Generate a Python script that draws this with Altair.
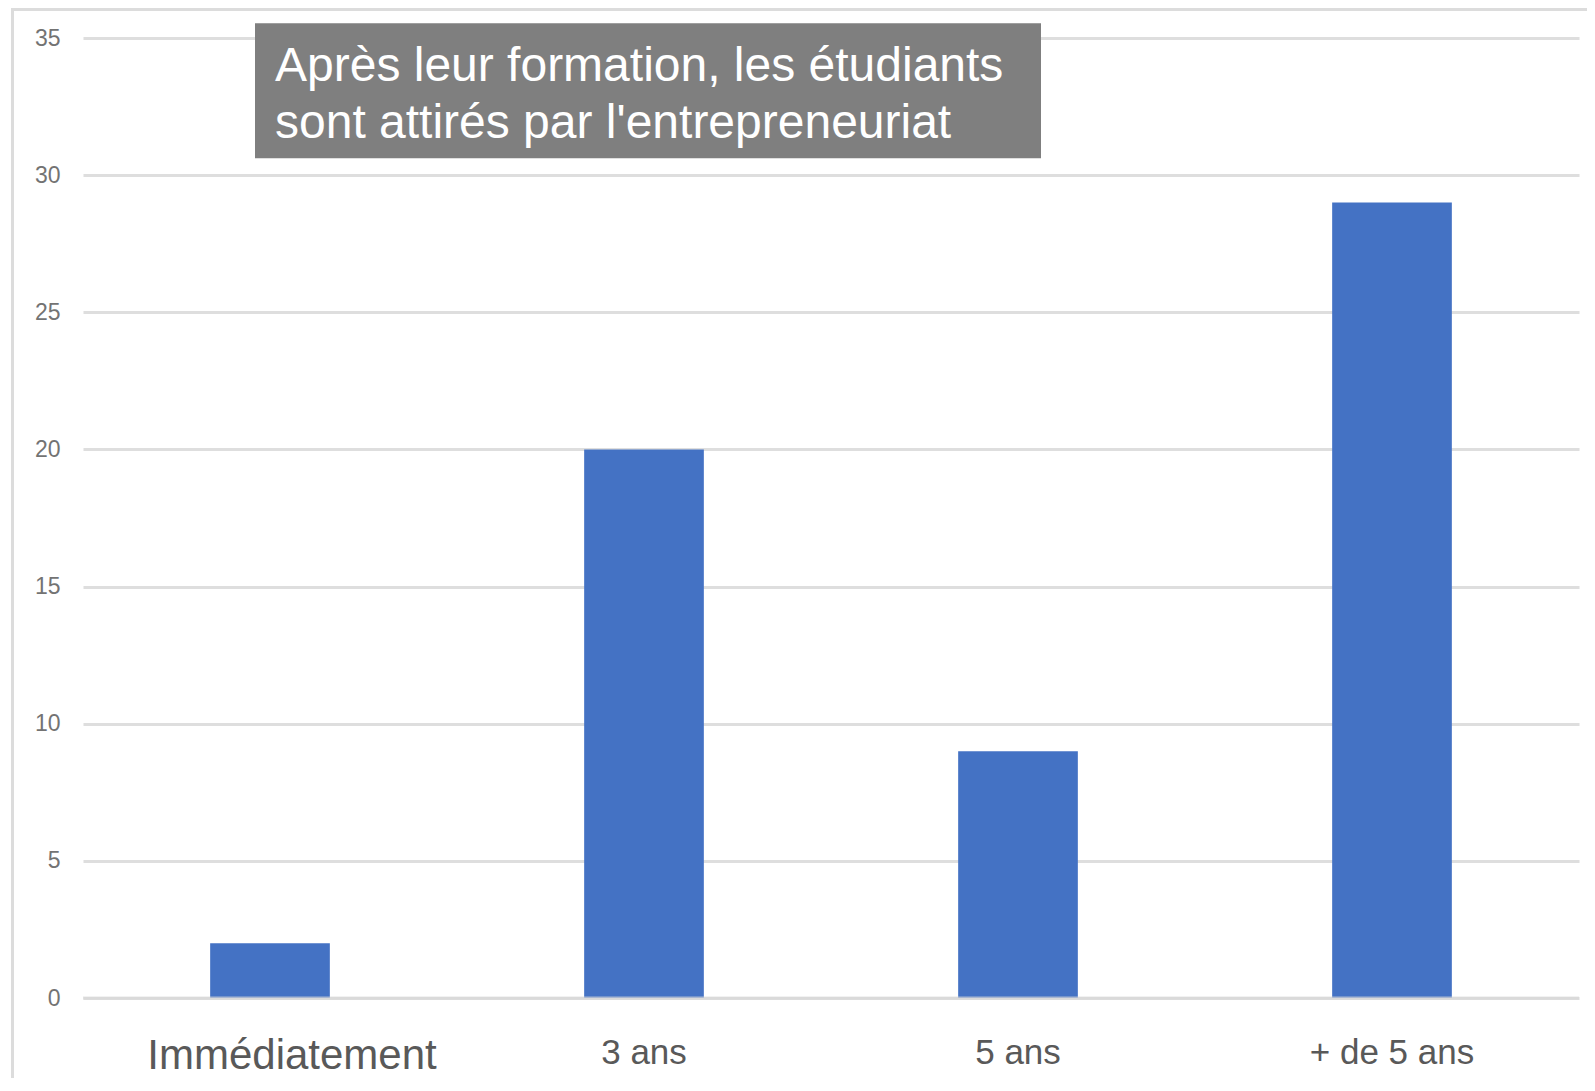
import altair as alt
import pandas as pd

# ---- data ----
categories = ["Immédiatement", "3 ans", "5 ans", "+ de 5 ans"]
values = [2, 20, 9, 29]
y_ticks = [0, 5, 10, 15, 20, 25, 30, 35]
title_lines = ["Après leur formation, les étudiants", "sont attirés par l'entrepreneuriat"]

df = pd.DataFrame({"cat": categories, "val": values})
one = pd.DataFrame({"k": [0]})
zero = pd.DataFrame({"v": [0]})

is_first = "datum.value === 'Immédiatement'"

x_enc = alt.X(
    "cat:N",
    sort=categories,
    scale=alt.Scale(paddingInner=0.68, paddingOuter=0.34),
    axis=alt.Axis(
        title=None,
        labelAngle=0,
        domain=False,
        ticks=False,
        grid=False,
        labelLimit=1000,
        labelFont="Liberation Sans",
        labelFontSize={"condition": {"test": is_first, "value": 42}, "value": 35},
        labelOffset={"condition": {"test": is_first, "value": 22}, "value": 0},
        labelColor="#595959",
        labelPadding=37,
    ),
)

y_axis = alt.Axis(
    title=None,
    values=y_ticks,
    domain=False,
    ticks=False,
    labelFont="Liberation Sans",
    labelFontSize=23,
    labelColor="#737373",
    labelPadding=23,
    gridColor="#dedede",
    gridWidth=3,
)
y_scale = alt.Scale(domain=[0, 35], nice=False)

bars = alt.Chart(df).mark_bar(color="#4472C4").encode(
    x=x_enc, y=alt.Y("val:Q", scale=y_scale, axis=y_axis)
)

zero_rule = alt.Chart(zero).mark_rule(color="#d9d9d9", opacity=0.68, strokeWidth=3).encode(
    y=alt.Y("v:Q", scale=y_scale, axis=y_axis)
)

box = alt.Chart(one).mark_rect(color="#7f7f7f").encode(
    x=alt.value(172), x2=alt.value(958), y=alt.value(-14.7), y2=alt.value(120.3)
)

title_text = alt.Chart(one).mark_text(
    align="left",
    baseline="alphabetic",
    font="Liberation Sans",
    fontSize=48,
    color="white",
    lineBreak="\n",
    lineHeight=57,
).encode(x=alt.value(192), y=alt.value(43), text=alt.value("\n".join(title_lines)))

frame_left = alt.Chart(one).mark_rule(color="#dcdcdc", strokeWidth=3).encode(
    x=alt.value(-70.5), y=alt.value(-30), y2=alt.value(1100)
)
frame_top = alt.Chart(one).mark_rule(color="#dcdcdc", strokeWidth=3).encode(
    x=alt.value(-72), x2=alt.value(1600), y=alt.value(-28.5)
)

chart = (
    alt.layer(frame_left, frame_top, bars, zero_rule, box, title_text)
    .properties(
        width=1496,
        height=960,
        autosize=alt.AutoSizeParams(type="none"),
        padding={"left": 75, "top": 30, "right": 8, "bottom": 80},
        background="white",
        view=alt.ViewBackground(stroke="transparent", strokeOpacity=0, strokeWidth=0),
    )
    .configure_view(stroke="transparent", strokeOpacity=0, strokeWidth=0)
    .configure(font="Liberation Sans")
)

chart.save("out.html", embed_options={"renderer": "svg", "actions": False})
